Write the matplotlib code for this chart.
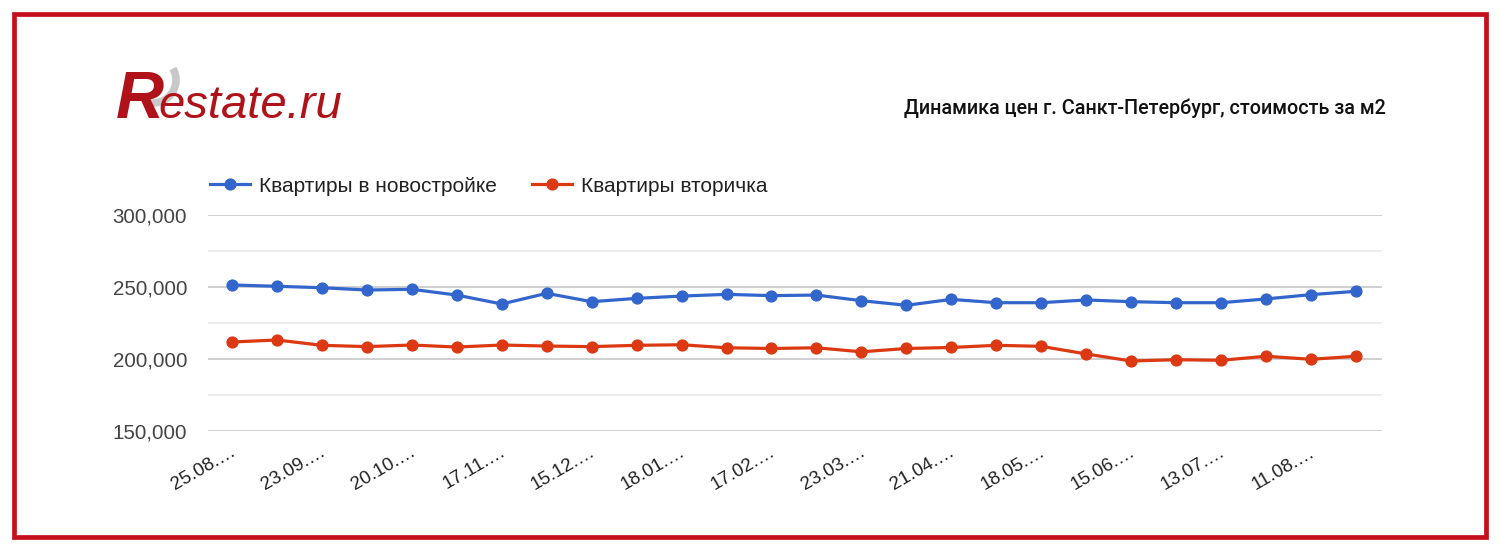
import matplotlib
matplotlib.use("Agg")
import matplotlib.pyplot as plt
from matplotlib.patches import Rectangle, Arc
from matplotlib.ticker import MultipleLocator, FuncFormatter
from matplotlib.transforms import ScaledTranslation

# ---- data ----
dates = ["25.08", "23.09", "20.10", "17.11", "15.12", "18.01", "17.02",
         "23.03", "21.04", "18.05", "15.06", "13.07", "11.08"]
new_build = [251400, 250500, 249500, 247900, 248400, 244400, 238200, 245600,
             239800, 242100, 243700, 244900, 244000, 244400, 240500, 237300,
             241400, 239100, 239100, 241000, 239800, 239100, 239100, 241700,
             244700, 247000]
secondary = [211800, 213200, 209500, 208600, 209700, 208300, 209700, 209000,
             208600, 209500, 209900, 207800, 207300, 207800, 205000, 207300,
             208000, 209500, 208800, 203500, 198600, 199500, 199100, 201900,
             199800, 201900]
series_names = ["Квартиры в новостройке", "Квартиры вторичка"]
title_text = "Динамика цен г. Санкт-Петербург, стоимость за м2"

BLUE = "#3366cc"
RED = "#dc3912"
BORDER = "#c4101c"
LOGO = "#b0121a"
SANS = ["Liberation Sans", "DejaVu Sans"]

W, H = 1500, 551
fig = plt.figure(figsize=(W / 100, H / 100), dpi=100)
fig.patch.set_facecolor("white")

# overlay in pixel coordinates
ov = fig.add_axes([0, 0, 1, 1], zorder=0)
ov.set_xlim(0, W)
ov.set_ylim(H, 0)
ov.axis("off")
ov.patch.set_alpha(0)
ov.add_patch(Rectangle((14, 14), W - 28, H - 28, fill=False,
                       edgecolor=BORDER, linewidth=3.4))

# logo
ov.add_patch(Arc((153, 80), 46, 46, theta1=-30, theta2=95,
                 color="#c8c8c8", linewidth=5.5, zorder=1))
ov.text(116, 118, "R", fontsize=48, fontweight="bold", fontstyle="italic",
        color=LOGO, family=SANS, va="baseline", zorder=2)
ov.text(158, 118, "estate.ru", fontsize=34, fontstyle="italic",
        color=LOGO, family=SANS, va="baseline", zorder=2)

# title
ov.text(1386, 108, title_text, fontsize=14.2, ha="right", va="center",
        color="#111111", fontweight="medium",
        family=["Roboto", "DejaVu Sans"])

# main axes
x0, x1, ytop, ybot = 208, 1382, 215, 431
ax = fig.add_axes([x0 / W, 1 - ybot / H, (x1 - x0) / W, (ybot - ytop) / H],
                  zorder=1)
ax.patch.set_alpha(0)
xs = list(range(len(new_build)))
ax.plot(xs, new_build, color=BLUE, lw=2.3, marker="o", ms=7.8,
        label=series_names[0], zorder=3)
ax.plot(xs, secondary, color=RED, lw=2.3, marker="o", ms=7.8,
        label=series_names[1], zorder=3)

ax.set_xlim(-0.533, len(xs) - 1 + 0.58)
ax.set_ylim(150000, 300000)
ax.yaxis.set_major_locator(MultipleLocator(50000))
ax.yaxis.set_minor_locator(MultipleLocator(25000))
ax.yaxis.set_major_formatter(FuncFormatter(lambda v, p: f"{int(v):,}"))
ax.grid(which="major", axis="y", color="#cccccc", lw=1.3, zorder=0)
ax.grid(which="minor", axis="y", color="#e8e8e8", lw=1.1, zorder=0)
for s in ax.spines.values():
    s.set_visible(False)
ax.tick_params(axis="both", which="both", length=0)
ax.tick_params(axis="y", pad=15, labelsize=14.8, labelcolor="#444444")
for lab in ax.get_yticklabels():
    lab.set_family(SANS)

ax.set_xticks(xs[::2])
ax.set_xticklabels([d + ".…" for d in dates], rotation=30, ha="right",
                   rotation_mode="anchor", fontsize=13.5, color="#222222",
                   family=SANS)
ax.tick_params(axis="x", pad=9)
off = ScaledTranslation(-2 / 100, 0, fig.dpi_scale_trans)
for lab in ax.get_xticklabels():
    lab.set_transform(lab.get_transform() + off)

leg = fig.legend(loc="center left", bbox_to_anchor=(210 / W, 1 - 186 / H),
                 ncol=2, frameon=False, borderpad=0, borderaxespad=0,
                 handlelength=1.9, handletextpad=0.45, columnspacing=1.7,
                 prop={"family": SANS, "size": 15})
for t in leg.get_texts():
    t.set_color("#222222")

fig.savefig("out.png", dpi=100, facecolor="white")
